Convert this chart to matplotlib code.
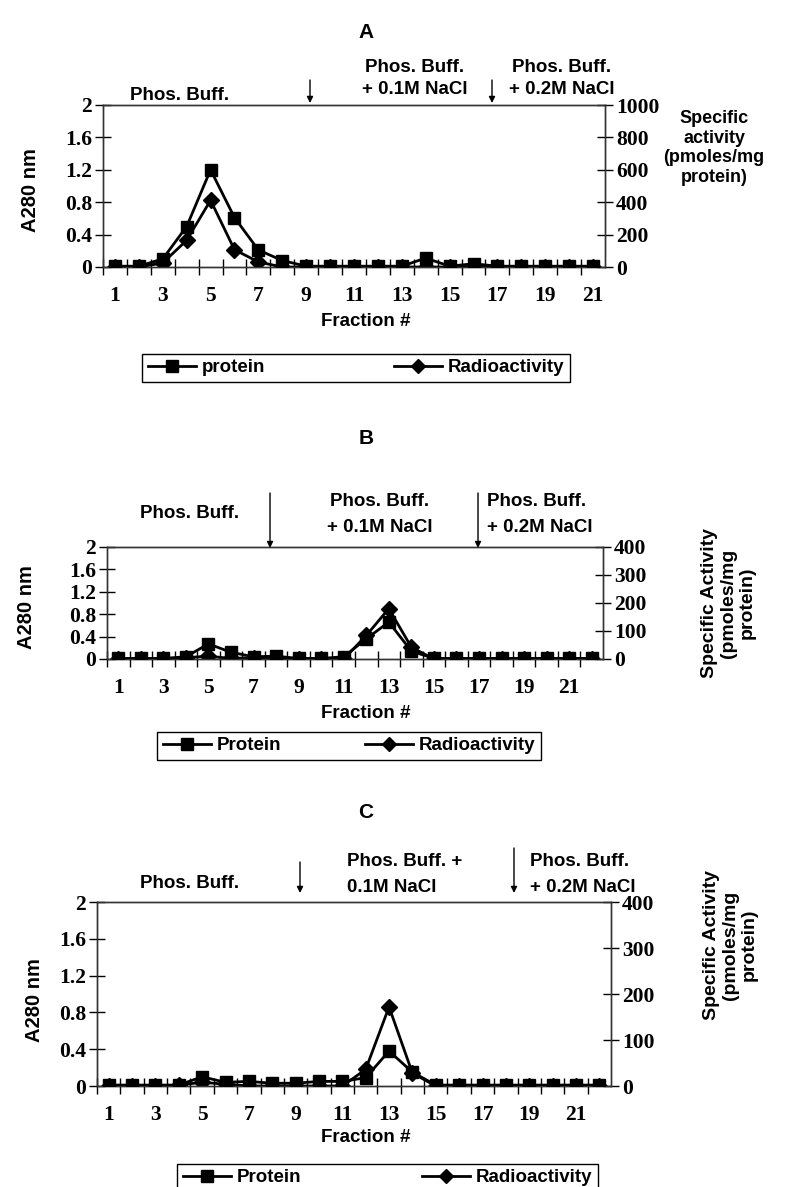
import matplotlib
matplotlib.use("Agg")
import matplotlib.pyplot as plt
from matplotlib.lines import Line2D
from matplotlib.patches import FancyArrowPatch

W, H = 793, 1187

# ---- data ----
fractions_a = list(range(1, 22))
protein_a = [0.01, 0.01, 0.10, 0.50, 1.20, 0.61, 0.21, 0.08, 0.01, 0.01, 0.01,
             0.01, 0.01, 0.11, 0.01, 0.04, 0.01, 0.01, 0.01, 0.01, 0.01]
radio_a = [0, 0, 25, 165, 412, 107, 31, 0, 0, 0, 0,
           0, 0, 0, 0, 0, 0, 0, 0, 0, 0]

fractions_b = list(range(1, 23))
protein_b = [0.01, 0.01, 0.01, 0.04, 0.27, 0.12, 0.04, 0.05, 0.01, 0.01, 0.04,
             0.36, 0.66, 0.14, 0.01, 0.01, 0.01, 0.01, 0.01, 0.01, 0.01, 0.01]
radio_b = [0, 0, 0, 5, 10, 2, 5, 0, 0, 0, 0,
           84, 180, 42, 0, 0, 0, 0, 0, 0, 0, 0]

fractions_c = list(range(1, 23))
protein_c = [0.01, 0.01, 0.01, 0.01, 0.10, 0.04, 0.05, 0.03, 0.03, 0.05, 0.05,
             0.09, 0.38, 0.15, 0.01, 0.01, 0.01, 0.01, 0.01, 0.01, 0.01, 0.01]
radio_c = [0, 0, 0, 2, 8, 4, 0, 0, 0, 0, 0,
           36, 172, 28, 0, 0, 0, 0, 0, 0, 0, 0]

left_ticks = [0, 0.4, 0.8, 1.2, 1.6, 2]
left_ticklabels = ["0", "0.4", "0.8", "1.2", "1.6", "2"]
right_ticks_a = [0, 200, 400, 600, 800, 1000]
right_ticks_bc = [0, 100, 200, 300, 400]
xlabels = [1, 3, 5, 7, 9, 11, 13, 15, 17, 19, 21]

SANS = "Liberation Sans"
SERIF = "Liberation Serif"

fig = plt.figure(figsize=(W / 100, H / 100), dpi=100)


def rect(x0, y0, x1, y1):
    return [x0 / W, 1 - y1 / H, (x1 - x0) / W, (y1 - y0) / H]


def ftext(x, y, s, **kw):
    kw.setdefault("fontfamily", SANS)
    kw.setdefault("fontweight", "bold")
    kw.setdefault("fontsize", 13.5)
    fig.text(x / W, 1 - y / H, s, **kw)


def arrow(x, y0, y1):
    # thin vertical arrow, pixel coords from the top
    fig.add_artist(FancyArrowPatch((x / W, 1 - y0 / H), (x / W, 1 - y1 / H),
                                   transform=fig.transFigure,
                                   arrowstyle="-|>", color="black", lw=1,
                                   mutation_scale=9, shrinkA=0, shrinkB=0))


def panel(box, fr, prot, radio, rmax, rticks):
    ax = fig.add_axes(rect(*box))
    ax2 = ax.twinx()
    n = len(fr)
    ax.plot(fr, prot, color="black", lw=2, marker="s", ms=9, zorder=3)
    ax2.plot(fr, radio, color="black", lw=2, marker="D", ms=8, zorder=3)
    ax.set_xlim(0.5, n + 0.5)
    ax.set_ylim(0, 2)
    ax2.set_ylim(0, rmax)
    ax.set_yticks(left_ticks)
    ax.set_yticklabels(left_ticklabels)
    ax2.set_yticks(rticks)
    ax.set_xticks(xlabels)
    ax.set_xticks([i + 0.5 for i in range(n)], minor=True)
    ax.tick_params(axis="x", which="major", length=0, pad=14)
    ax.tick_params(axis="x", which="minor", direction="inout", length=12, width=1)
    ax.tick_params(axis="y", direction="inout", length=12, width=1, pad=2)
    ax2.tick_params(axis="y", direction="inout", length=12, width=1, pad=2)
    for a in (ax, ax2):
        for lab in a.get_xticklabels() + a.get_yticklabels():
            lab.set_fontfamily(SERIF)
            lab.set_fontweight("bold")
            lab.set_fontsize(15.5)
        for sp in a.spines.values():
            sp.set_linewidth(1)
            sp.set_color("#333333")
    ax.set_zorder(ax2.get_zorder() + 1)
    ax.patch.set_visible(False)
    return ax, ax2


def legend(x0, y0, x1, y1, prot_label):
    handles = [Line2D([], [], color="black", lw=2, marker="s", ms=8),
               Line2D([], [], color="black", lw=2, marker="D", ms=7)]
    fig.legend(handles, [prot_label, "Radioactivity"], ncol=2,
               loc="lower left", bbox_to_anchor=rect(x0, y0, x1, y1),
               mode="expand", fancybox=False, edgecolor="black",
               framealpha=1, borderpad=0.3, borderaxespad=0, handlelength=2.6,
               handletextpad=0.3, columnspacing=2,
               prop=dict(family=SANS, weight="bold", size=13.5))


# ---------------- Panel A ----------------
ftext(366, 33, "A", ha="center", va="center", fontsize=15)
panel((103, 105, 605, 267), fractions_a, protein_a, radio_a, 1000, right_ticks_a)
ftext(180, 95, "Phos. Buff.", ha="center", va="center")
arrow(310, 80, 103)
ftext(415, 68, "Phos. Buff.", ha="center", va="center")
ftext(415, 90, "+ 0.1M NaCl", ha="center", va="center")
arrow(492, 80, 103)
ftext(562, 68, "Phos. Buff.", ha="center", va="center")
ftext(562, 90, "+ 0.2M NaCl", ha="center", va="center")
ftext(30, 190, "A280 nm", ha="center", va="center", rotation=90, fontsize=14.5)
ftext(714, 148, "Specific\nactivity\n(pmoles/mg\nprotein)", ha="center",
      va="center", linespacing=1.2, fontsize=13)
ftext(366, 321, "Fraction #", ha="center", va="center")
legend(142, 347, 570, 382, "protein")

# ---------------- Panel B ----------------
ftext(366, 438, "B", ha="center", va="center", fontsize=15)
panel((107, 547, 603, 659), fractions_b, protein_b, radio_b, 400, right_ticks_bc)
ftext(190, 513, "Phos. Buff.", ha="center", va="center")
arrow(270, 493, 548)
ftext(380, 502, "Phos. Buff.", ha="center", va="center")
ftext(380, 527, "+ 0.1M NaCl", ha="center", va="center")
arrow(478, 493, 548)
ftext(487, 502, "Phos. Buff.", ha="left", va="center")
ftext(487, 527, "+ 0.2M NaCl", ha="left", va="center")
ftext(27, 607, "A280 nm", ha="center", va="center", rotation=90, fontsize=14.5)
ftext(728, 603, "Specific Activity\n(pmoles/mg\nprotein)", ha="center",
      va="center", rotation=90, linespacing=1.15, fontsize=14)
ftext(366, 713, "Fraction #", ha="center", va="center")
legend(157, 733, 541, 760, "Protein")

# ---------------- Panel C ----------------
ftext(366, 812, "C", ha="center", va="center", fontsize=15)
panel((97, 902, 611, 1086), fractions_c, protein_c, radio_c, 400, right_ticks_bc)
ftext(190, 883, "Phos. Buff.", ha="center", va="center")
arrow(300, 862, 893)
ftext(347, 862, "Phos. Buff. +", ha="left", va="center")
ftext(347, 888, "0.1M NaCl", ha="left", va="center")
arrow(514, 848, 893)
ftext(530, 862, "Phos. Buff.", ha="left", va="center")
ftext(530, 888, "+ 0.2M NaCl", ha="left", va="center")
ftext(35, 1000, "A280 nm", ha="center", va="center", rotation=90, fontsize=14.5)
ftext(730, 945, "Specific Activity\n(pmoles/mg\nprotein)", ha="center",
      va="center", rotation=90, linespacing=1.15, fontsize=14)
ftext(366, 1137, "Fraction #", ha="center", va="center")
legend(177, 1160, 598, 1192, "Protein")

fig.savefig("out.png", dpi=100)
